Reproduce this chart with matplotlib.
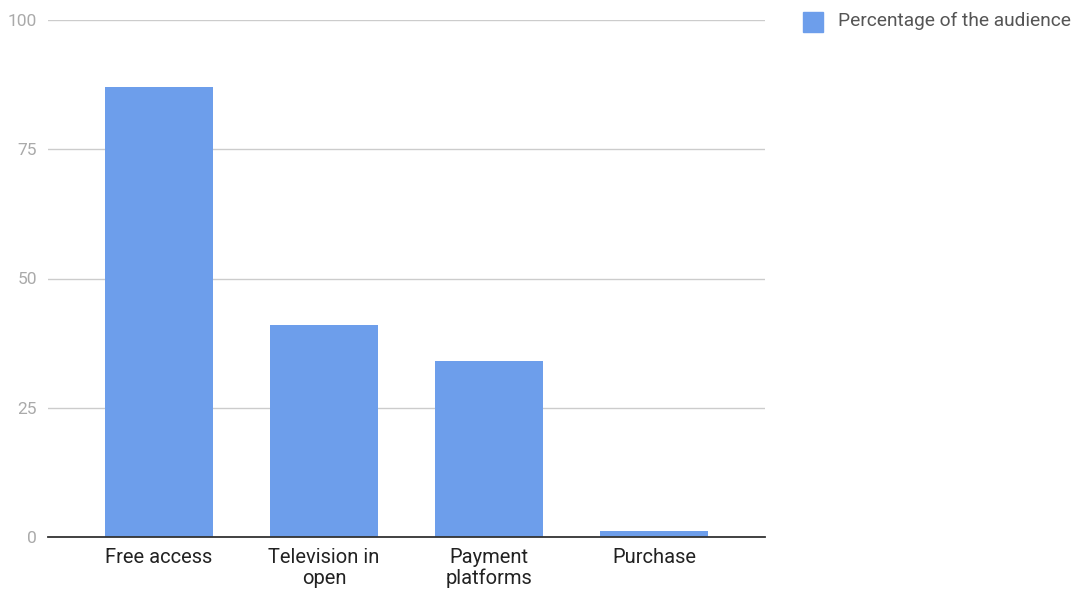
import matplotlib
matplotlib.use("Agg")
import matplotlib.pyplot as plt
from matplotlib.patches import Rectangle

categories = ["Free access", "Television in\nopen", "Payment\nplatforms", "Purchase"]
values = [87, 41, 34, 1.2]
yticks = [0, 25, 50, 75, 100]
series_name = "Percentage of the audience"

plt.rcParams['font.family'] = ['Roboto', 'DejaVu Sans']

fig = plt.figure(figsize=(10.78, 5.90), dpi=100)
ax = fig.add_axes([48/1078, 1-537/590, (765-48)/1078, (537-20)/590])

x = list(range(len(categories)))
ax.bar(x, values, width=0.655, color="#6d9eeb", zorder=3)
ax.set_xlim(-0.673, 3.673)
ax.set_ylim(0, 100)
ax.set_yticks(yticks)
ax.set_yticklabels([str(v) for v in yticks], color="#aaaaaa", fontsize=12.5)
ax.set_xticks(x)
ax.set_xticklabels(categories, color="#222222", fontsize=14.5, linespacing=1.1)
ax.tick_params(axis='y', length=0, pad=8)
ax.tick_params(axis='x', length=0, pad=8)
ax.grid(axis='y', color="#cccccc", linewidth=1, zorder=0)
for s in ["top", "right", "left"]:
    ax.spines[s].set_visible(False)
ax.spines["bottom"].set_color("#333333")
ax.spines["bottom"].set_linewidth(1.3)
ax.spines["bottom"].set_zorder(4)

# legend
fig.patches.append(Rectangle((803/1078, 1-32/590), 20/1078, 20/590,
                             transform=fig.transFigure, color="#6d9eeb", figure=fig))
fig.text(838/1078, 1-21/590, series_name, color="#555555", fontsize=13.8, va="center", ha="left")

fig.savefig("out.png", dpi=100)
